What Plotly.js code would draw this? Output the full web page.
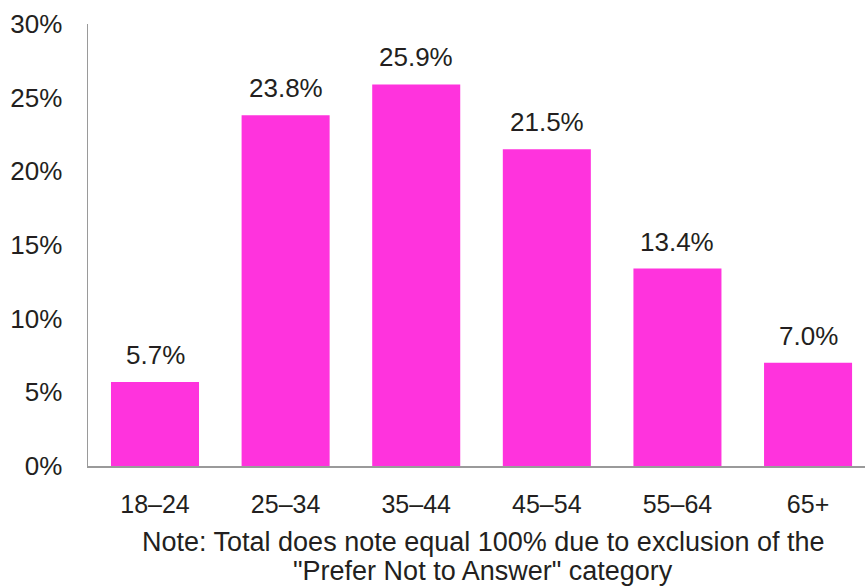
<!DOCTYPE html>
<html>
<head>
<meta charset="utf-8">
<script src="https://cdn.plot.ly/plotly-3.0.1.min.js"></script>
<style>
  html, body { margin: 0; padding: 0; background: #fff; }
  #chart { width: 865px; height: 586px; }
</style>
</head>
<body>
<div id="chart"></div>
<script>
// Age group distribution of respondents
const ageGroups = ['18–24', '25–34', '35–44', '45–54', '55–64', '65+'];
const sharePct = [5.7, 23.8, 25.9, 21.5, 13.4, 7.0];
const yTicks = [0, 5, 10, 15, 20, 25, 30];
const noteLines = [
  'Note: Total does note equal 100% due to exclusion of the',
  '"Prefer Not to Answer" category'
];

const FONT = 'Liberation Sans, Arial, Helvetica, sans-serif';
const INK = '#231f20';
const BAR = '#ff33dd';
const AXIS = '#9a9a9a';

const bars = {
  type: 'bar',
  x: ageGroups,
  y: sharePct,
  width: 0.674,
  marker: { color: BAR, line: { width: 0 } },
  hoverinfo: 'skip'
};

// value labels sit above each bar
const valueLabels = ageGroups.map((g, i) => ({
  x: g,
  y: sharePct[i],
  xref: 'x',
  yref: 'y',
  text: sharePct[i].toFixed(1) + '%',
  showarrow: false,
  yanchor: 'bottom',
  yshift: 10,
  font: { family: FONT, size: 26, color: INK }
}));

// footnote under the category labels, one annotation per line
const noteY = [-0.133, -0.198];
const notes = noteLines.map((t, i) => ({
  xref: 'paper',
  yref: 'paper',
  x: 0.509,
  y: noteY[i],
  xanchor: 'center',
  yanchor: 'top',
  text: t,
  showarrow: false,
  font: { family: FONT, size: 27, color: INK }
}));

const layout = {
  width: 865,
  height: 586,
  margin: { l: 88, r: 0, t: 24, b: 120, pad: 0 },
  paper_bgcolor: '#fff',
  plot_bgcolor: '#fff',
  showlegend: false,
  font: { family: FONT, size: 25, color: INK },
  xaxis: {
    type: 'category',
    range: [-0.513, 5.436],
    showline: true,
    linecolor: AXIS,
    linewidth: 1.5,
    showgrid: false,
    zeroline: false,
    ticks: '',
    ticklabelstandoff: 15,
    tickfont: { family: FONT, size: 25, color: INK }
  },
  yaxis: {
    range: [0, 30],
    tickvals: yTicks,
    ticktext: yTicks.map(t => t + '%'),
    showline: true,
    linecolor: AXIS,
    linewidth: 1.5,
    showgrid: false,
    zeroline: false,
    ticks: '',
    ticklabelstandoff: 19,
    tickfont: { family: FONT, size: 26, color: INK }
  },
  annotations: valueLabels.concat(notes)
};

Plotly.newPlot('chart', [bars], layout, { displayModeBar: false, staticPlot: true });
</script>
</body>
</html>
